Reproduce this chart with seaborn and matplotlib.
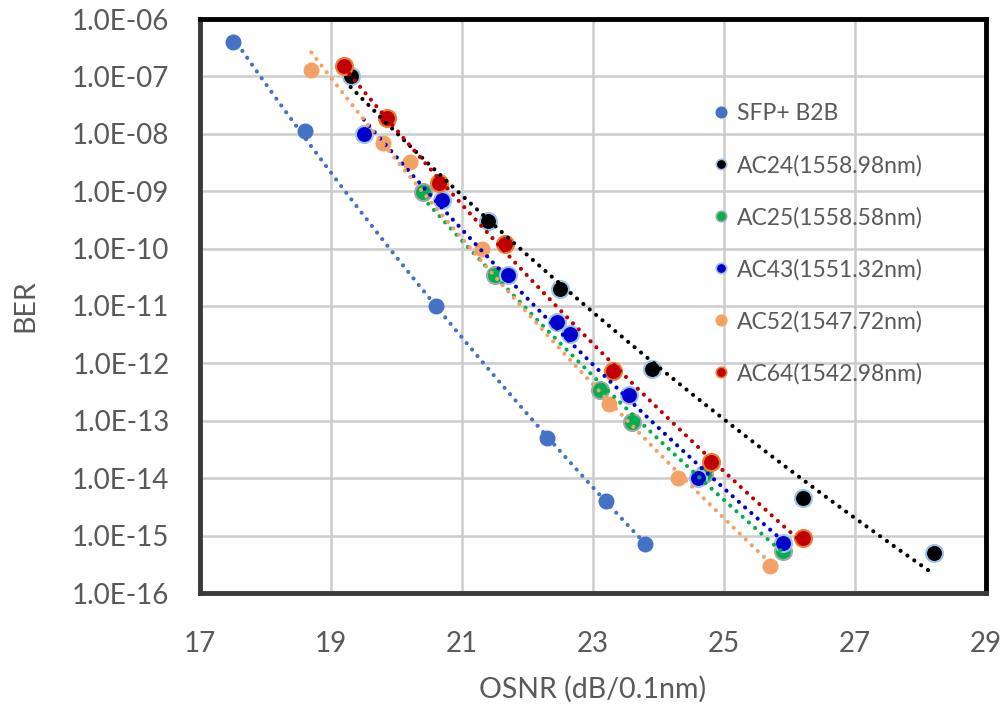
import numpy as np
import pandas as pd
import matplotlib
matplotlib.use("Agg")
import matplotlib.pyplot as plt
import seaborn as sns
from matplotlib.ticker import FixedLocator, FuncFormatter, NullLocator
from matplotlib.lines import Line2D

# data
osnr_sfp = [17.5, 18.6, 20.6, 22.3, 23.2, 23.8]
ber_sfp = [4e-7, 1.1e-8, 1e-11, 5e-14, 4e-15, 7e-16]

osnr_ac24 = [19.3, 21.4, 22.5, 23.9, 26.2, 28.2]
ber_ac24 = [1e-7, 3e-10, 2e-11, 8e-13, 4.6e-15, 5e-16]

osnr_ac25 = [20.4, 21.5, 23.1, 23.6, 24.7, 25.9]
ber_ac25 = [9.5e-10, 3.4e-11, 3.4e-13, 9.5e-14, 1.2e-14, 5.5e-16]

osnr_ac43 = [19.5, 20.7, 21.7, 22.45, 22.65, 23.55, 24.6, 25.9]
ber_ac43 = [1e-8, 7e-10, 3.5e-11, 5.2e-12, 3.2e-12, 2.8e-13, 1e-14, 7.5e-16]

osnr_ac52 = [18.7, 19.8, 20.2, 21.3, 23.25, 24.3, 25.7]
ber_ac52 = [1.3e-7, 7e-9, 3.2e-9, 1e-10, 2e-13, 1e-14, 3e-16]

osnr_ac64 = [19.2, 19.85, 20.65, 21.65, 23.3, 24.8, 26.2]
ber_ac64 = [1.5e-7, 1.9e-8, 1.4e-9, 1.2e-10, 7.5e-13, 1.9e-14, 9e-16]

labels = ["SFP+ B2B", "AC24(1558.98nm)", "AC25(1558.58nm)",
          "AC43(1551.32nm)", "AC52(1547.72nm)", "AC64(1542.98nm)"]
x_ticks = [17, 19, 21, 23, 25, 27, 29]
y_ticks = [1e-16, 1e-15, 1e-14, 1e-13, 1e-12, 1e-11, 1e-10, 1e-9, 1e-8, 1e-7, 1e-6]

# style per series: fill, edge, marker size
styles = [
    ("#4472C4", "#4472C4", 100),
    ("#000000", "#9DC3E6", 150),
    ("#00B050", "#A5A5A5", 150),
    ("#0000CC", "#9DC3E6", 150),
    ("#F4A166", "#F4A166", 100),
    ("#C00000", "#ED7D31", 150),
]
xs = [osnr_sfp, osnr_ac24, osnr_ac25, osnr_ac43, osnr_ac52, osnr_ac64]
ys = [ber_sfp, ber_ac24, ber_ac25, ber_ac43, ber_ac52, ber_ac64]

sns.set_style("white")
plt.rcParams["font.family"] = ["Lato", "DejaVu Sans"]

fig = plt.figure(figsize=(10.06, 7.15), dpi=100)
ax = fig.add_axes([200 / 1006, 1 - 593 / 715, 786 / 1006, 574 / 715])

# markers first, trendlines (power fit, like Excel) on top
for (fc, ec, s), x, y, lab in zip(styles, xs, ys, labels):
    df = pd.DataFrame({"OSNR": x, "BER": y})
    sns.scatterplot(data=df, x="OSNR", y="BER", ax=ax, color=fc, edgecolor=ec,
                    linewidth=1.5, s=s, zorder=3, legend=False)

for (fc, ec, s), x, y in zip(styles, xs, ys):
    lx = np.log10(x)
    ly = np.log10(y)
    b, c = np.polyfit(lx, ly, 1)
    xf = np.linspace(min(x), max(x), 100)
    fit = pd.DataFrame({"OSNR": xf, "BER": 10 ** (c + b * np.log10(xf))})
    sns.lineplot(data=fit, x="OSNR", y="BER", ax=ax, color=fc, lw=3,
                 linestyle=(0, (0.01, 2.0)), dash_capstyle="round",
                 zorder=4, legend=False)

ax.set_yscale("log")
ax.set_xlim(17, 29)
ax.set_ylim(1e-16, 1e-6)
ax.xaxis.set_major_locator(FixedLocator(x_ticks))
ax.yaxis.set_major_locator(FixedLocator(y_ticks))
ax.yaxis.set_minor_locator(NullLocator())
ax.yaxis.set_major_formatter(FuncFormatter(lambda v, p: f"{v:.1E}"))
ax.grid(True, which="major", color="#CCCCCC", lw=1.8, zorder=0)
ax.set_axisbelow(True)
ax.tick_params(length=0, labelsize=20, labelcolor="#595959")
ax.tick_params(axis="x", pad=27)
ax.tick_params(axis="y", pad=22)

for side, sp in ax.spines.items():
    sp.set_visible(True)
    sp.set_linewidth(3.5)
    sp.set_color("black")
ax.spines["left"].set_color("#3A3A3A")
ax.spines["bottom"].set_color("#3A3A3A")

ax.set_xlabel("OSNR (dB/0.1nm)", fontsize=20.5, color="#595959")
ax.set_ylabel("BER", fontsize=20.5, color="#595959")
ax.xaxis.set_label_coords(0.5, -0.144)
ax.yaxis.set_label_coords(-0.205, 0.5)

handles = [Line2D([], [], ls="none", marker="o", markersize=7.5,
                  markerfacecolor=fc, markeredgecolor=ec, markeredgewidth=1.2)
           for fc, ec, s in styles]
leg = ax.legend(handles, labels, loc="upper left", bbox_to_anchor=(0.637, 0.869),
                frameon=False, fontsize=16.5, labelspacing=1.33, handletextpad=0.2,
                handlelength=1.0, borderaxespad=0)
for t in leg.get_texts():
    t.set_color("#595959")

fig.savefig("out.png", dpi=100)
